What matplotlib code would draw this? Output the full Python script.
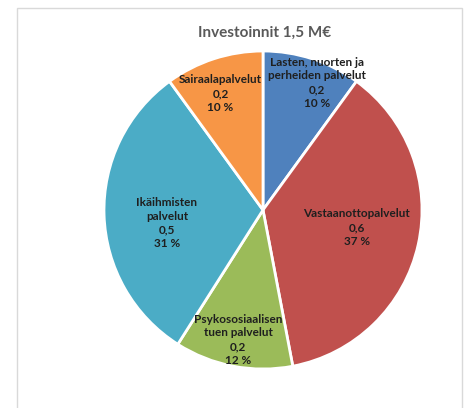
import numpy as np
import matplotlib
matplotlib.use("Agg")
import matplotlib.pyplot as plt
from matplotlib.patches import Rectangle

title = "Investoinnit 1,5 M€"
categories = ["Lasten, nuorten ja\nperheiden palvelut", "Vastaanottopalvelut",
              "Psykososiaalisen\ntuen palvelut", "Ikäihmisten\npalvelut", "Sairaalapalvelut"]
values = [0.15, 0.555, 0.18, 0.465, 0.15]
value_labels = ["0,2", "0,6", "0,2", "0,5", "0,2"]
percent_labels = ["10 %", "37 %", "12 %", "31 %", "10 %"]
colors = ["#4F81BD", "#C0504D", "#9BBB59", "#4BACC6", "#F79646"]

# label placement (radius fraction, angle tweak in degrees)
label_r = [0.87, 0.60, 0.83, 0.61, 0.78]
label_dang = [-5, 2, 0, 6, 2]

W, H = 470, 408
fig = plt.figure(figsize=(W / 100, H / 100), dpi=100)
fig.patch.set_facecolor("white")

# chart border
fig.patches.append(Rectangle((17 / W, -0.05), (462 - 17) / W, 1.05 - 8 / H,
                             transform=fig.transFigure, fill=False,
                             edgecolor="#D9D9D9", linewidth=1.0))

cx, cy, r = 263, 210, 159
ax = fig.add_axes([(cx - r) / W, (H - cy - r) / H, 2 * r / W, 2 * r / H])
wedges, _ = ax.pie(values, colors=colors, startangle=90, counterclock=False,
                   wedgeprops=dict(edgecolor="white", linewidth=2.0))
ax.set_xlim(-1.0, 1.0)
ax.set_ylim(-1.0, 1.0)
ax.set_aspect("equal")
ax.axis("off")

font = ["Lato", "DejaVu Sans"]
for i, w in enumerate(wedges):
    ang = np.deg2rad((w.theta1 + w.theta2) / 2 + label_dang[i])
    x = label_r[i] * np.cos(ang)
    y = label_r[i] * np.sin(ang)
    txt = f"{categories[i]}\n{value_labels[i]}\n{percent_labels[i]}"
    ax.text(x, y, txt, ha="center", va="center", fontsize=8.5, fontweight="bold",
            color="#1F1F1F", family=font, linespacing=1.3)

fig.text(265 / W, 1 - 33 / H, title, ha="center", va="center", fontsize=11,
         fontweight="bold", color="#595959", family=font)

fig.savefig("out.png", dpi=100)
